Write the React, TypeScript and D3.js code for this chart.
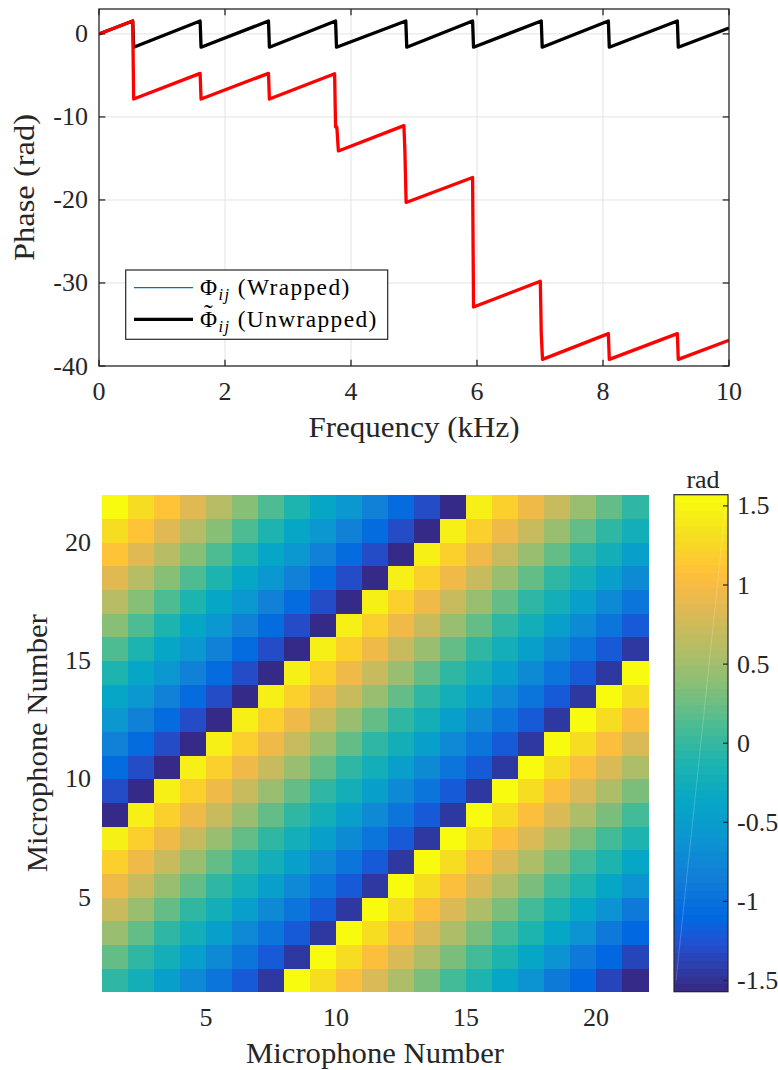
import React from "react";
import * as d3 from "d3";

// ---- top panel: phase vs frequency (kHz, rad)
const wrappedFreq = [0, 0.535, 0.55, 1.605, 1.62, 2.69, 2.705, 3.755, 3.77, 4.87, 4.885, 5.93, 5.945, 7.02, 7.035, 8.085, 8.1, 9.18, 9.195, 10];
const wrappedPhase = [0, 1.55, -1.6, 1.55, -1.6, 1.55, -1.6, 1.55, -1.6, 1.55, -1.6, 1.55, -1.6, 1.55, -1.6, 1.55, -1.6, 1.55, -1.6, 0.7];

const unwrappedFreq = [0, 0.535, 0.55, 1.605, 1.62, 2.69, 2.705, 3.74, 3.755, 3.775, 3.8, 4.84, 4.855, 4.875, 5.93, 5.945, 7.005, 7.02, 7.04, 8.085, 8.1, 9.18, 9.195, 10];
const unwrappedPhase = [0, 1.55, -7.85, -4.75, -7.85, -4.75, -7.85, -4.8, -11.2, -11.2, -14.1, -11.05, -14.0, -20.3, -17.3, -32.9, -29.8, -36.1, -39.2, -36.1, -39.2, -36.1, -39.2, -36.9];

const freqTicks = [0, 2, 4, 6, 8, 10];
const phaseTicks = [0, -10, -20, -30, -40];

// ---- bottom panel: phase difference between microphones (rad)
// row k = microphone k+1 counted from the bottom, column j = microphone j+1
const phaseMatrix = [
  [-0.02, -0.22, -0.47, -0.72, -0.96, -1.2, -1.45, 1.55, 1.3, 1.06, 0.81, 0.56, 0.32, 0.07, -0.12, -0.37, -0.61, -0.9, -1.1, -1.35, -1.55],
  [0.22, -0.02, -0.22, -0.47, -0.72, -0.96, -1.2, -1.45, 1.55, 1.3, 1.06, 0.81, 0.56, 0.32, 0.07, -0.12, -0.37, -0.61, -0.9, -1.1, -1.35],
  [0.47, 0.22, -0.02, -0.22, -0.47, -0.72, -0.96, -1.2, -1.45, 1.55, 1.3, 1.06, 0.81, 0.56, 0.32, 0.07, -0.12, -0.37, -0.61, -0.9, -1.1],
  [0.71, 0.47, 0.22, -0.02, -0.22, -0.47, -0.72, -0.96, -1.2, -1.45, 1.55, 1.3, 1.06, 0.81, 0.56, 0.32, 0.07, -0.12, -0.37, -0.61, -0.9],
  [0.98, 0.71, 0.47, 0.22, -0.02, -0.22, -0.47, -0.72, -0.96, -1.2, -1.45, 1.55, 1.3, 1.06, 0.81, 0.56, 0.32, 0.07, -0.12, -0.37, -0.61],
  [1.22, 0.98, 0.71, 0.47, 0.22, -0.02, -0.22, -0.47, -0.72, -0.96, -1.2, -1.45, 1.55, 1.3, 1.06, 0.81, 0.56, 0.32, 0.07, -0.12, -0.37],
  [1.45, 1.22, 0.98, 0.71, 0.47, 0.22, -0.02, -0.22, -0.47, -0.72, -0.96, -1.2, -1.45, 1.55, 1.3, 1.06, 0.81, 0.56, 0.32, 0.07, -0.12],
  [-1.55, 1.45, 1.22, 0.98, 0.71, 0.47, 0.22, -0.02, -0.22, -0.47, -0.72, -0.96, -1.2, -1.45, 1.55, 1.3, 1.06, 0.81, 0.56, 0.32, 0.07],
  [-1.3, -1.55, 1.45, 1.22, 0.98, 0.71, 0.47, 0.22, -0.02, -0.22, -0.47, -0.72, -0.96, -1.2, -1.45, 1.55, 1.3, 1.06, 0.81, 0.56, 0.32],
  [-1.06, -1.3, -1.55, 1.45, 1.22, 0.98, 0.71, 0.47, 0.22, -0.02, -0.22, -0.47, -0.72, -0.96, -1.2, -1.45, 1.55, 1.3, 1.06, 0.81, 0.56],
  [-0.83, -1.06, -1.3, -1.55, 1.45, 1.22, 0.98, 0.71, 0.47, 0.22, -0.02, -0.22, -0.47, -0.72, -0.96, -1.2, -1.45, 1.55, 1.3, 1.06, 0.81],
  [-0.57, -0.83, -1.06, -1.3, -1.55, 1.45, 1.22, 0.98, 0.71, 0.47, 0.22, -0.02, -0.22, -0.47, -0.72, -0.96, -1.2, -1.45, 1.55, 1.3, 1.06],
  [-0.35, -0.57, -0.83, -1.06, -1.3, -1.55, 1.45, 1.22, 0.98, 0.71, 0.47, 0.22, -0.02, -0.22, -0.47, -0.72, -0.96, -1.2, -1.45, 1.55, 1.3],
  [-0.1, -0.35, -0.57, -0.83, -1.06, -1.3, -1.55, 1.45, 1.22, 0.98, 0.71, 0.47, 0.22, -0.02, -0.22, -0.47, -0.72, -0.96, -1.2, -1.45, 1.55],
  [0.12, -0.1, -0.35, -0.57, -0.83, -1.06, -1.3, -1.55, 1.45, 1.22, 0.98, 0.71, 0.47, 0.22, -0.02, -0.22, -0.47, -0.72, -0.96, -1.2, -1.45],
  [0.37, 0.12, -0.1, -0.35, -0.57, -0.83, -1.06, -1.3, -1.55, 1.45, 1.22, 0.98, 0.71, 0.47, 0.22, -0.02, -0.22, -0.47, -0.72, -0.96, -1.2],
  [0.61, 0.37, 0.12, -0.1, -0.35, -0.57, -0.83, -1.06, -1.3, -1.55, 1.45, 1.22, 0.98, 0.71, 0.47, 0.22, -0.02, -0.22, -0.47, -0.72, -0.96],
  [0.86, 0.61, 0.37, 0.12, -0.1, -0.35, -0.57, -0.83, -1.06, -1.3, -1.55, 1.45, 1.22, 0.98, 0.71, 0.47, 0.22, -0.02, -0.22, -0.47, -0.72],
  [1.1, 0.86, 0.61, 0.37, 0.12, -0.1, -0.35, -0.57, -0.83, -1.06, -1.3, -1.55, 1.45, 1.22, 0.98, 0.71, 0.47, 0.22, -0.02, -0.22, -0.47],
  [1.31, 1.1, 0.86, 0.61, 0.37, 0.12, -0.1, -0.35, -0.57, -0.83, -1.06, -1.3, -1.55, 1.45, 1.22, 0.98, 0.71, 0.47, 0.22, -0.02, -0.22],
  [1.55, 1.31, 1.1, 0.86, 0.61, 0.37, 0.12, -0.1, -0.35, -0.57, -0.83, -1.06, -1.3, -1.55, 1.45, 1.22, 0.98, 0.71, 0.47, 0.22, -0.02],
];

const micTicks = [5, 10, 15, 20];
const radTicks = [1.5, 1, 0.5, 0, -0.5, -1, -1.5];

// parula, sampled at a few of its 64 entries
const parulaAt = [0, 6, 9, 14, 19, 24, 29, 34, 39, 44, 49, 52, 54, 59, 63];
const parulaHex = ["#352a87", "#2053d4", "#0268e1", "#127dd8", "#0c93d2", "#06a7c6", "#1db3af", "#4dbc92", "#87bf77", "#b7bd64", "#e1b952", "#f8bb44", "#ffc337", "#f5e41d", "#f9fb0e"];

const FONT = "'Liberation Serif', 'DejaVu Serif', 'Noto Serif', 'Times New Roman', serif";
const AXIS = "#262626";
const GRID = "#e3e3e3";
const HALF_PI = Math.PI / 2;

export default function App() {
  // top panel
  const x = d3.scaleLinear().domain([0, 10]).range([99, 729]);
  const y = d3.scaleLinear().domain([-40, 3]).range([366, 9]);
  const [x0, x1] = x.range();
  const [y0, y1] = y.range();
  const line = d3.line<[number, number]>().x(d => x(d[0])).y(d => y(d[1]));
  const wrapped = d3.zip(wrappedFreq, wrappedPhase) as [number, number][];
  const unwrapped = d3.zip(unwrappedFreq, unwrappedPhase) as [number, number][];

  // bottom panel
  const hx = d3.scaleLinear().domain([1, 22]).range([102, 648]);
  const hy = d3.scaleLinear().domain([1, 22]).range([991.7, 494.7]);
  const cy = d3.scaleLinear().domain([-HALF_PI, HALF_PI]).range([991.7, 494.7]);
  const parula = d3.scaleLinear<string>()
    .domain(parulaAt.map(k => k / 63))
    .range(parulaHex)
    .interpolate(d3.interpolateRgb);
  const levels = d3.range(64).map(k => parula(k / 63));
  const colorOf = (v: number) =>
    levels[Math.max(0, Math.min(63, Math.floor(((v + HALF_PI) / Math.PI) * 64)))];
  const cbX = 674, cbW = 54;
  const tick = 6.3;

  return (
    <svg width={778} height={1070} style={{ position: "absolute", left: 0, top: 0, background: "#fff" }}
      fontFamily={FONT}>
      <rect width={778} height={1070} fill="#fff" />

      {/* ---------- top panel ---------- */}
      <defs>
        <clipPath id="plotClip">
          <rect x={x0} y={y1} width={x1 - x0} height={y0 - y1} />
        </clipPath>
      </defs>
      {freqTicks.slice(1, -1).map(t => (
        <line key={"gx" + t} x1={x(t)} x2={x(t)} y1={y0} y2={y1} stroke={GRID} strokeWidth={1} />
      ))}
      {phaseTicks.slice(1, -1).map(t => (
        <line key={"gy" + t} x1={x0} x2={x1} y1={y(t)} y2={y(t)} stroke={GRID} strokeWidth={1} />
      ))}
      <line x1={x0} x2={x1} y1={y(0)} y2={y(0)} stroke={GRID} strokeWidth={1} />

      <g clipPath="url(#plotClip)" fill="none" strokeLinejoin="round">
        <path d={line(wrapped) || ""} stroke="#0072bd" strokeWidth={1} />
        <path d={line(wrapped) || ""} stroke="#000" strokeWidth={3.3} />
        <path d={line(unwrapped) || ""} stroke="#ff0000" strokeWidth={3.3} />
      </g>

      <rect x={x0} y={y1} width={x1 - x0} height={y0 - y1} fill="none" stroke={AXIS} strokeWidth={1.3} />
      {freqTicks.map(t => (
        <g key={"tx" + t}>
          <line x1={x(t)} x2={x(t)} y1={y0} y2={y0 - tick} stroke={AXIS} strokeWidth={1.3} />
          <line x1={x(t)} x2={x(t)} y1={y1} y2={y1 + tick} stroke={AXIS} strokeWidth={1.3} />
          <text x={x(t)} y={y0 + 34} textAnchor="middle" fontSize={26} fill={AXIS}>{t}</text>
        </g>
      ))}
      {phaseTicks.map(t => (
        <g key={"ty" + t}>
          <line x1={x0} x2={x0 + tick} y1={y(t)} y2={y(t)} stroke={AXIS} strokeWidth={1.3} />
          <line x1={x1} x2={x1 - tick} y1={y(t)} y2={y(t)} stroke={AXIS} strokeWidth={1.3} />
          <text x={x0 - 11} y={y(t) + 8.5} textAnchor="end" fontSize={26} fill={AXIS}>{t}</text>
        </g>
      ))}
      <text x={(x0 + x1) / 2} y={437} textAnchor="middle" fontSize={28.6} textLength={211}
        lengthAdjust="spacingAndGlyphs" fill={AXIS}>
        Frequency (kHz)
      </text>
      <text transform={`translate(34,${(y0 + y1) / 2}) rotate(-90)`} textAnchor="middle" fontSize={28.6}
        textLength={147} lengthAdjust="spacingAndGlyphs" fill={AXIS}>
        Phase (rad)
      </text>

      {/* legend */}
      <rect x={125.7} y={270} width={262} height={69.3} fill="#fff" stroke={AXIS} strokeWidth={1.2} />
      <line x1={134} x2={193} y1={287.7} y2={287.7} stroke="#0072bd" strokeWidth={1.2} />
      <line x1={134} x2={193} y1={319.3} y2={319.3} stroke="#000" strokeWidth={3.3} />
      <text x={200} y={295.3} fontSize={23.4} letterSpacing={1.4} fill="#000">
        Φ<tspan fontStyle="italic" fontSize={16.5} dy={5}>ij</tspan>
        <tspan dy={-5}>{" (Wrapped)"}</tspan>
      </text>
      <text x={200} y={326.7} fontSize={23.4} letterSpacing={1.4} fill="#000">
        Φ<tspan dx={-14.6} dy={-4.7} fontSize={26}>˜</tspan>
        <tspan dx={4.5} dy={9.7} fontStyle="italic" fontSize={16.5}>ij</tspan>
        <tspan dy={-5}>{" (Unwrapped)"}</tspan>
      </text>

      {/* ---------- bottom panel ---------- */}
      <g shapeRendering="crispEdges">
        {phaseMatrix.map((row, i) =>
          row.map((v, j) => (
            <rect key={`c${i}-${j}`} x={hx(j + 1)} y={hy(i + 2)}
              width={hx(j + 2) - hx(j + 1) + 0.5} height={hy(i + 1) - hy(i + 2) + 0.5}
              fill={colorOf(v)} />
          ))
        )}
      </g>
      {micTicks.map(t => (
        <g key={"mx" + t}>
          <text x={hx(t)} y={991.7 + 34} textAnchor="middle" fontSize={26} fill={AXIS}>{t}</text>
          <text x={102 - 11} y={hy(t) + 8.5} textAnchor="end" fontSize={26} fill={AXIS}>{t}</text>
        </g>
      ))}
      <text x={(102 + 648) / 2} y={1062.7} textAnchor="middle" fontSize={28.6} textLength={258}
        lengthAdjust="spacingAndGlyphs" fill={AXIS}>
        Microphone Number
      </text>
      <text transform={`translate(47,${(991.7 + 494.7) / 2}) rotate(-90)`} textAnchor="middle" fontSize={28.6}
        textLength={258} lengthAdjust="spacingAndGlyphs" fill={AXIS}>
        Microphone Number
      </text>

      {/* colorbar */}
      <g shapeRendering="crispEdges">
        {levels.map((c, k) => (
          <rect key={"cb" + k} x={cbX} y={cy(-HALF_PI + ((k + 1) * Math.PI) / 64)} width={cbW}
            height={cy(-HALF_PI + (k * Math.PI) / 64) - cy(-HALF_PI + ((k + 1) * Math.PI) / 64) + 0.5}
            fill={c} />
        ))}
      </g>
      <line x1={cbX + 2} y1={cy(-1.5)} x2={cbX + cbW - 2} y2={cy(1.52)} stroke="#fff" strokeOpacity={0.25} strokeWidth={0.8} />
      <rect x={cbX} y={cy(HALF_PI)} width={cbW} height={cy(-HALF_PI) - cy(HALF_PI)} fill="none" stroke={AXIS} strokeWidth={1.2} />
      {radTicks.map(t => (
        <g key={"cbt" + t}>
          <line x1={cbX + cbW} x2={cbX + cbW - 5} y1={cy(t)} y2={cy(t)} stroke={AXIS} strokeWidth={1.2} />
          <text x={cbX + cbW + 9} y={cy(t) + 8.5} fontSize={26} fill={AXIS}>{t}</text>
        </g>
      ))}
      <text x={cbX + cbW / 2 + 2} y={488} textAnchor="middle" fontSize={26} fill={AXIS}>rad</text>
    </svg>
  );
}
